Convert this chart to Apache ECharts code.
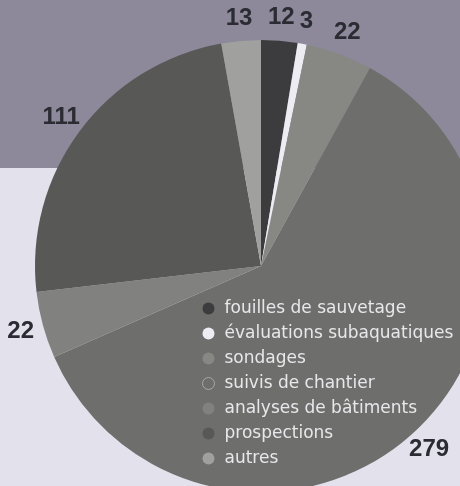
<!DOCTYPE html>
<html><head><meta charset="utf-8">
<script src="https://cdn.jsdelivr.net/npm/echarts@6/dist/echarts.min.js"></script>
<style>html,body{margin:0;padding:0;background:#e3e2ec}#c{width:460px;height:486px}</style>
</head><body><div id="c"></div>
<script>
const categories = ['fouilles de sauvetage','évaluations subaquatiques','sondages','suivis de chantier','analyses de bâtiments','prospections','autres'];
const values = [12, 3, 22, 279, 22, 111, 13];
const colors = ['#3c3c3e','#ececf2','#878783','#6e6e6c','#81817f','#585856','#a0a09e'];

const chart = echarts.init(document.getElementById('c'), null, {renderer:'canvas'});
const mainData = categories.map((n,i)=>({name:n, value:values[i], itemStyle:{color:colors[i]}}));
const labelData = categories.map((n,i)=>({name:n, value:values[i]}));
chart.setOption({
  backgroundColor:'#e3e2ec',
  animation:false,
  graphic:[{type:'rect', z:-10, shape:{x:0,y:0,width:460,height:168}, style:{fill:'#8d899b'}}],
  legend:{
    orient:'vertical', left:197, top:294, icon:'circle', itemWidth:12, itemHeight:12, itemGap:6,
    textStyle:{color:'#e8e8ec', fontSize:17, lineHeight:19, fontFamily:'DejaVu Sans', padding:[0,0,0,5]},
    data: categories.map((n,i)=> i===3 ? {name:n, itemStyle:{color:'#6e6e6c', borderColor:'#a8a8ac', borderWidth:1}} : {name:n})
  },
  series:[
    {type:'pie', center:[261,266], radius:226, startAngle:90, clockwise:true,
     label:{show:false}, labelLine:{show:false}, silent:true, avoidLabelOverlap:false,
     data: mainData},
    {type:'pie', center:[261,266], radius:[226,266], startAngle:90, clockwise:true, silent:true,
     avoidLabelOverlap:false, legendHoverLink:false,
     itemStyle:{color:'rgba(0,0,0,0)'},
     label:{show:true, position:'inside', formatter:'{c}', color:'#2b2b33', fontSize:24, fontWeight:'bold', fontFamily:'Liberation Sans', rotate:0},
     labelLine:{show:false},
     data: labelData}
  ]
});
</script></body></html>
